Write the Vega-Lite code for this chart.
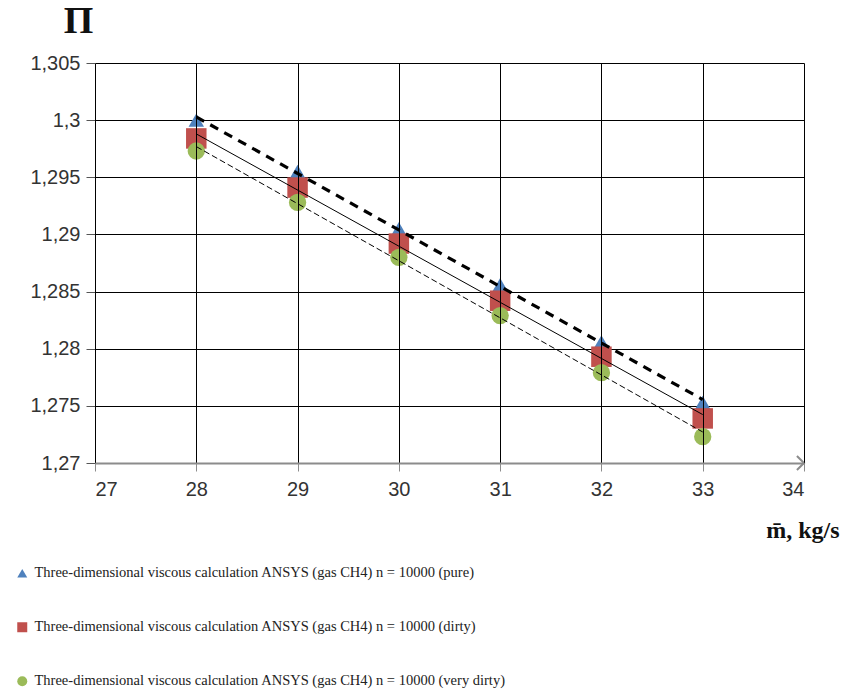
{
  "$schema": "https://vega.github.io/schema/vega-lite/v6.json",
  "width": 709,
  "height": 400,
  "autosize": {"type": "none"},
  "padding": {"left": 95, "top": 63, "right": 38, "bottom": 230},
  "background": "white",
  "config": {
    "view": {"stroke": null},
    "axis": {"labelFont": "Liberation Sans", "labelFontSize": 20, "labelColor": "#333333"},
    "legend": {"symbolSize": 100}
  },
  "data": {
    "values": [
      {"m": 28, "p": 1.3000, "series": "Three-dimensional viscous calculation ANSYS (gas CH4) n = 10000 (pure)"},
      {"m": 29, "p": 1.2955, "series": "Three-dimensional viscous calculation ANSYS (gas CH4) n = 10000 (pure)"},
      {"m": 30, "p": 1.2905, "series": "Three-dimensional viscous calculation ANSYS (gas CH4) n = 10000 (pure)"},
      {"m": 31, "p": 1.2856, "series": "Three-dimensional viscous calculation ANSYS (gas CH4) n = 10000 (pure)"},
      {"m": 32, "p": 1.2806, "series": "Three-dimensional viscous calculation ANSYS (gas CH4) n = 10000 (pure)"},
      {"m": 33, "p": 1.2753, "series": "Three-dimensional viscous calculation ANSYS (gas CH4) n = 10000 (pure)"},
      {"m": 28, "p": 1.2984, "series": "Three-dimensional viscous calculation ANSYS (gas CH4) n = 10000 (dirty)"},
      {"m": 29, "p": 1.2941, "series": "Three-dimensional viscous calculation ANSYS (gas CH4) n = 10000 (dirty)"},
      {"m": 30, "p": 1.2892, "series": "Three-dimensional viscous calculation ANSYS (gas CH4) n = 10000 (dirty)"},
      {"m": 31, "p": 1.2842, "series": "Three-dimensional viscous calculation ANSYS (gas CH4) n = 10000 (dirty)"},
      {"m": 32, "p": 1.2793, "series": "Three-dimensional viscous calculation ANSYS (gas CH4) n = 10000 (dirty)"},
      {"m": 33, "p": 1.2739, "series": "Three-dimensional viscous calculation ANSYS (gas CH4) n = 10000 (dirty)"},
      {"m": 28, "p": 1.2973, "series": "Three-dimensional viscous calculation ANSYS (gas CH4) n = 10000 (very dirty)"},
      {"m": 29, "p": 1.2928, "series": "Three-dimensional viscous calculation ANSYS (gas CH4) n = 10000 (very dirty)"},
      {"m": 30, "p": 1.2880, "series": "Three-dimensional viscous calculation ANSYS (gas CH4) n = 10000 (very dirty)"},
      {"m": 31, "p": 1.2829, "series": "Three-dimensional viscous calculation ANSYS (gas CH4) n = 10000 (very dirty)"},
      {"m": 32, "p": 1.2779, "series": "Three-dimensional viscous calculation ANSYS (gas CH4) n = 10000 (very dirty)"},
      {"m": 33, "p": 1.2723, "series": "Three-dimensional viscous calculation ANSYS (gas CH4) n = 10000 (very dirty)"}
    ]
  },
  "layer": [
    {
      "transform": [{"filter": "indexof(datum.series, '(pure)') >= 0"}],
      "mark": {"type": "point", "filled": true, "opacity": 1, "size": 240},
      "encoding": {
        "x": {
          "field": "m", "type": "quantitative",
          "scale": {"domain": [27, 34], "nice": false, "zero": false},
          "axis": {
            "values": [27, 28, 29, 30, 31, 32, 33, 34],
            "format": "d",
            "grid": true, "gridColor": "#000000", "gridWidth": 1, "gridOpacity": 1,
            "domainColor": "#8c8c8c", "domainWidth": 2,
            "tickColor": "#8c8c8c", "tickSize": 8, "tickWidth": 1,
            "labelPadding": 8, "zindex": 1,
            "title": "m̄, kg/s",
            "titleFont": "Liberation Serif", "titleFontSize": 24, "titleFontWeight": "bold", "titleColor": "#111111",
            "titleAnchor": null, "titleAlign": "right", "titleBaseline": "middle",
            "titleX": 744, "titleY": 67
          }
        },
        "y": {
          "field": "p", "type": "quantitative",
          "scale": {"domain": [1.27, 1.305], "nice": false, "zero": false},
          "axis": {
            "values": [1.27, 1.275, 1.28, 1.285, 1.29, 1.295, 1.3, 1.305],
            "labelExpr": "replace(format(datum.value, '.4~f'), '.', ',')",
            "grid": true, "gridColor": "#000000", "gridWidth": 1, "gridOpacity": 1,
            "domain": false,
            "tickColor": "#555555", "tickSize": 9, "tickWidth": 1,
            "labelPadding": 6,
            "title": "П",
            "titleFont": "Liberation Serif", "titleFontSize": 38, "titleFontWeight": "bold", "titleColor": "#111111",
            "titleAngle": 0, "titleAnchor": null, "titleAlign": "center", "titleBaseline": "middle",
            "titleX": -17, "titleY": -42
          }
        },
        "color": {
          "field": "series", "type": "nominal",
          "scale": {
            "domain": [
              "Three-dimensional viscous calculation ANSYS (gas CH4) n = 10000 (pure)",
              "Three-dimensional viscous calculation ANSYS (gas CH4) n = 10000 (dirty)",
              "Three-dimensional viscous calculation ANSYS (gas CH4) n = 10000 (very dirty)"
            ],
            "range": ["#4f81bd", "#c0504d", "#9bbb59"]
          },
          "legend": {
            "orient": "none", "legendX": -80, "legendY": 503, "direction": "vertical",
            "title": null, "labelFont": "Liberation Serif", "labelFontSize": 14.5, "labelColor": "#222222",
            "labelLimit": 800, "rowPadding": 39, "symbolSize": 100, "labelOffset": 5
          }
        },
        "shape": {
          "field": "series", "type": "nominal",
          "scale": {
            "domain": [
              "Three-dimensional viscous calculation ANSYS (gas CH4) n = 10000 (pure)",
              "Three-dimensional viscous calculation ANSYS (gas CH4) n = 10000 (dirty)",
              "Three-dimensional viscous calculation ANSYS (gas CH4) n = 10000 (very dirty)"
            ],
            "range": ["triangle-up", "square", "circle"]
          }
        }
      }
    },
    {
      "transform": [{"filter": "indexof(datum.series, '(dirty)') >= 0"}],
      "mark": {"type": "point", "filled": true, "opacity": 1, "size": 420},
      "encoding": {
        "x": {"field": "m", "type": "quantitative"},
        "y": {"field": "p", "type": "quantitative"},
        "color": {"field": "series", "type": "nominal"},
        "shape": {"field": "series", "type": "nominal"}
      }
    },
    {
      "transform": [{"filter": "indexof(datum.series, '(very dirty)') >= 0"}],
      "mark": {"type": "point", "filled": true, "opacity": 1, "size": 300},
      "encoding": {
        "x": {"field": "m", "type": "quantitative"},
        "y": {"field": "p", "type": "quantitative"},
        "color": {"field": "series", "type": "nominal"},
        "shape": {"field": "series", "type": "nominal"}
      }
    },
    {
      "transform": [
        {"filter": "indexof(datum.series, '(pure)') >= 0"},
        {"regression": "p", "on": "m"}
      ],
      "mark": {"type": "line", "color": "#000000", "strokeWidth": 3.2, "strokeDash": [9, 7]},
      "encoding": {"x": {"field": "m", "type": "quantitative"}, "y": {"field": "p", "type": "quantitative"}}
    },
    {
      "transform": [
        {"filter": "indexof(datum.series, '(dirty)') >= 0"},
        {"regression": "p", "on": "m"}
      ],
      "mark": {"type": "line", "color": "#000000", "strokeWidth": 1},
      "encoding": {"x": {"field": "m", "type": "quantitative"}, "y": {"field": "p", "type": "quantitative"}}
    },
    {
      "transform": [
        {"filter": "indexof(datum.series, '(very dirty)') >= 0"},
        {"regression": "p", "on": "m"}
      ],
      "mark": {"type": "line", "color": "#000000", "strokeWidth": 1, "strokeDash": [6, 3]},
      "encoding": {"x": {"field": "m", "type": "quantitative"}, "y": {"field": "p", "type": "quantitative"}}
    },
    {
      "data": {"values": [{"m": 34, "p": 1.27}]},
      "mark": {"type": "point", "shape": "M-1,-1L0,0L-1,1", "size": 200, "filled": false, "stroke": "#8c8c8c", "strokeWidth": 2, "opacity": 1},
      "encoding": {"x": {"field": "m", "type": "quantitative"}, "y": {"field": "p", "type": "quantitative"}}
    }
  ]
}
